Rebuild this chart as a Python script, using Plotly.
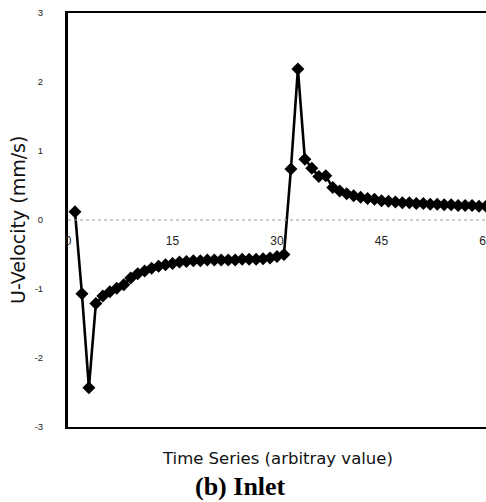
import plotly.graph_objects as go

time_steps = list(range(1, 61))
u_velocity = [
    0.12, -1.07, -2.43, -1.21, -1.10, -1.04, -0.99, -0.94, -0.84, -0.78,
    -0.74, -0.70, -0.67, -0.65, -0.63, -0.61, -0.60, -0.59, -0.59, -0.58,
    -0.58, -0.58, -0.58, -0.58, -0.57, -0.57, -0.57, -0.56, -0.55, -0.53,
    -0.50, 0.74, 2.19, 0.88, 0.75, 0.63, 0.64, 0.47, 0.42, 0.38,
    0.35, 0.33, 0.31, 0.30, 0.28, 0.27, 0.26, 0.25, 0.25, 0.24,
    0.24, 0.23, 0.23, 0.22, 0.22, 0.21, 0.21, 0.21, 0.20, 0.20,
]
x_ticks = [0, 15, 30, 45, 60]
y_ticks = [-3, -2, -1, 0, 1, 2, 3]

fig = go.Figure()
fig.add_trace(go.Scatter(
    x=time_steps, y=u_velocity, mode="lines+markers",
    line=dict(color="black", width=2.6),
    marker=dict(symbol="diamond", size=10, color="black"),
    showlegend=False, cliponaxis=False,
))
# invisible trace to activate the label axis at y = 0
fig.add_trace(go.Scatter(x=[0], y=[0], xaxis="x2", mode="markers",
                         marker=dict(opacity=0), showlegend=False, hoverinfo="skip"))

fig.add_shape(type="line", xref="x", yref="y", x0=0, x1=60, y0=0, y1=0,
              line=dict(color="#999", width=1, dash="dot"))

font = "Liberation Sans, Arial, sans-serif"
title_font = "DejaVu Sans, sans-serif"
fig.update_layout(
    width=486, height=502,
    margin=dict(l=68, r=0, t=13, b=75, autoexpand=False),
    paper_bgcolor="white", plot_bgcolor="white",
    font=dict(family=font, color="black"),
    xaxis=dict(range=[0, 60], showgrid=False, zeroline=False, showticklabels=False,
               showline=True, linecolor="black", linewidth=2, mirror=True, ticks="",
               automargin=False),
    xaxis2=dict(range=[0, 60], overlaying="x", anchor="free", position=0.5, side="bottom",
                tickvals=x_ticks, ticktext=[str(v) for v in x_ticks], ticks="",
                ticklabelstandoff=12, ticklabeloverflow="allow", automargin=False,
                showgrid=False, zeroline=False, showline=False,
                tickfont=dict(size=12, color="#222")),
    yaxis=dict(range=[-3, 3], tickvals=y_ticks, ticktext=[str(v) for v in y_ticks],
               showgrid=False, zeroline=False, showline=True, linecolor="black",
               linewidth=3, ticks="", ticklabelstandoff=20, automargin=False,
               tickfont=dict(size=9.5, color="#222")),
    annotations=[
        dict(text="U-Velocity (mm/s)", xref="paper", yref="paper", x=0, y=0.5,
             xanchor="center", yanchor="middle", xshift=-50, textangle=-90,
             showarrow=False, font=dict(size=19, family=title_font, color="#111")),
        dict(text="Time Series (arbitray value)", xref="paper", yref="paper", x=0.5, y=0,
             xanchor="center", yanchor="middle", xshift=0, yshift=-31,
             showarrow=False, font=dict(size=16.5, family=title_font, color="#111")),
        dict(text="<b>(b) Inlet</b>", xref="paper", yref="paper", x=0, y=0,
             xanchor="center", yanchor="middle", xshift=172, yshift=-59,
             showarrow=False, font=dict(size=26, family="Liberation Serif, Times New Roman, serif")),
    ],
)

fig.write_html("out.html")
